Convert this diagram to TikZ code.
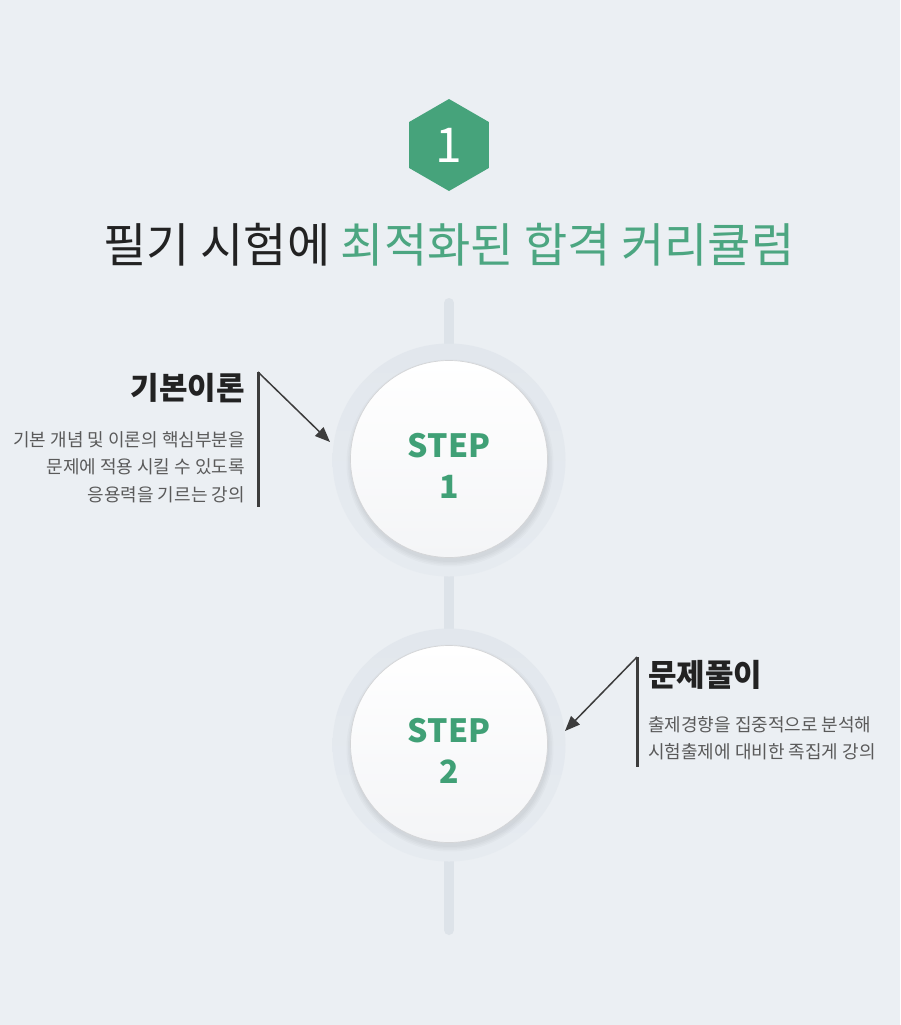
\documentclass[tikz,border=0pt]{standalone}
\usepackage{fontspec}
\newfontfamily\kr{Noto Sans CJK KR}
\usetikzlibrary{shapes.geometric,arrows.meta}
\definecolor{bg}{RGB}{235,239,243}
\definecolor{hexgreen}{RGB}{70,163,123}
\definecolor{titlegreen}{RGB}{76,166,129}
\definecolor{stepgreen}{RGB}{64,160,118}
\definecolor{ink}{RGB}{34,34,34}
\definecolor{descgray}{RGB}{90,90,90}
\definecolor{track}{RGB}{221,227,233}
\definecolor{ringtop}{RGB}{226,231,237}
\definecolor{ringbot}{RGB}{230,235,240}
\definecolor{rimgray}{RGB}{212,213,215}
\definecolor{whitebot}{RGB}{244,245,247}
\definecolor{arrowgray}{RGB}{60,60,60}
\tikzset{
  ringbox/.style={circle, top color=ringtop, bottom color=ringbot, minimum size=233pt, inner sep=0pt},
  stepbox/.style={circle, top color=white, bottom color=whitebot, draw=rimgray, line width=0.7pt,
    minimum size=197pt, inner sep=0pt},
  steptext/.style={align=center, text=stepgreen, inner sep=0pt, font=\kr\bfseries\fontsize{32}{41}\selectfont},
  headlabel/.style={font=\kr\bfseries\fontsize{31}{36}\selectfont, text=ink, inner sep=0pt},
  desclabel/.style={font=\kr\fontsize{18}{27.5}\selectfont, text=descgray, inner sep=0pt},
  barline/.style={line width=3pt, draw=arrowgray},
  pointer/.style={line width=1.5pt, draw=arrowgray, -{Triangle[length=15pt,width=12pt]}},
  softshadow/.style={fill=black, fill opacity=0.02},
}
\begin{document}
\begin{tikzpicture}[x=1pt,y=-1pt]
\fill[bg] (0,0) rectangle (900,1025);
\useasboundingbox (0,0) rectangle (900,1025);

% hexagon badge
\node[regular polygon, regular polygon sides=6, shape border rotate=90, minimum size=92pt,
  fill=hexgreen, inner sep=0pt, text=white, font=\kr\fontsize{48}{50}\selectfont] (hex) at (449,145) {1};

% title
\node[font=\kr\fontsize{47}{52}\selectfont, text=ink, inner sep=0pt] (title) at (449,245)
  {필기 시험에 \textcolor{titlegreen}{최적화된 합격 커리큘럼}};

% vertical track
\coordinate (trackTop) at (449,303);
\coordinate (trackBot) at (449,930);
\draw[line width=10pt, draw=track, line cap=round] (trackTop) -- (trackBot);

% step circles
\node[ringbox] (ring1) at (449,460) {};
\foreach \r in {99,100.5,102,103.5} \fill[softshadow] (450,463) circle (\r pt);
\node[stepbox] (step1) at (449,459) {};
\node[steptext] (steplabel1) at (449,466) {STEP\\1};
\node[ringbox] (ring2) at (449,745) {};
\foreach \r in {99,100.5,102,103.5} \fill[softshadow] (450,748) circle (\r pt);
\node[stepbox] (step2) at (449,744) {};
\node[steptext] (steplabel2) at (449,751) {STEP\\2};

% left label
\node[headlabel, anchor=east] (head1) at (245,388) {기본이론};
\node[desclabel, anchor=north east, align=right] (desc1) at (245,431)
  {기본 개념 및 이론의 핵심부분을\\문제에 적용 시킬 수 있도록\\응용력을 기르는 강의};
\coordinate (bar1top) at (258,372);
\coordinate (bar1bot) at (258,507);
\draw[barline] (bar1top) -- (bar1bot);
\coordinate (tip1) at (330,442);
\draw[pointer] (bar1top) -- (tip1);

% right label
\node[headlabel, anchor=west] (head2) at (648,675) {문제풀이};
\node[desclabel, anchor=north west, align=left] (desc2) at (648,716)
  {출제경향을 집중적으로 분석해\\시험출제에 대비한 족집게 강의};
\coordinate (bar2top) at (637,657);
\coordinate (bar2bot) at (637,767);
\draw[barline] (bar2top) -- (bar2bot);
\coordinate (tip2) at (565,731);
\draw[pointer] (bar2top) -- (tip2);
\end{tikzpicture}
\end{document}
